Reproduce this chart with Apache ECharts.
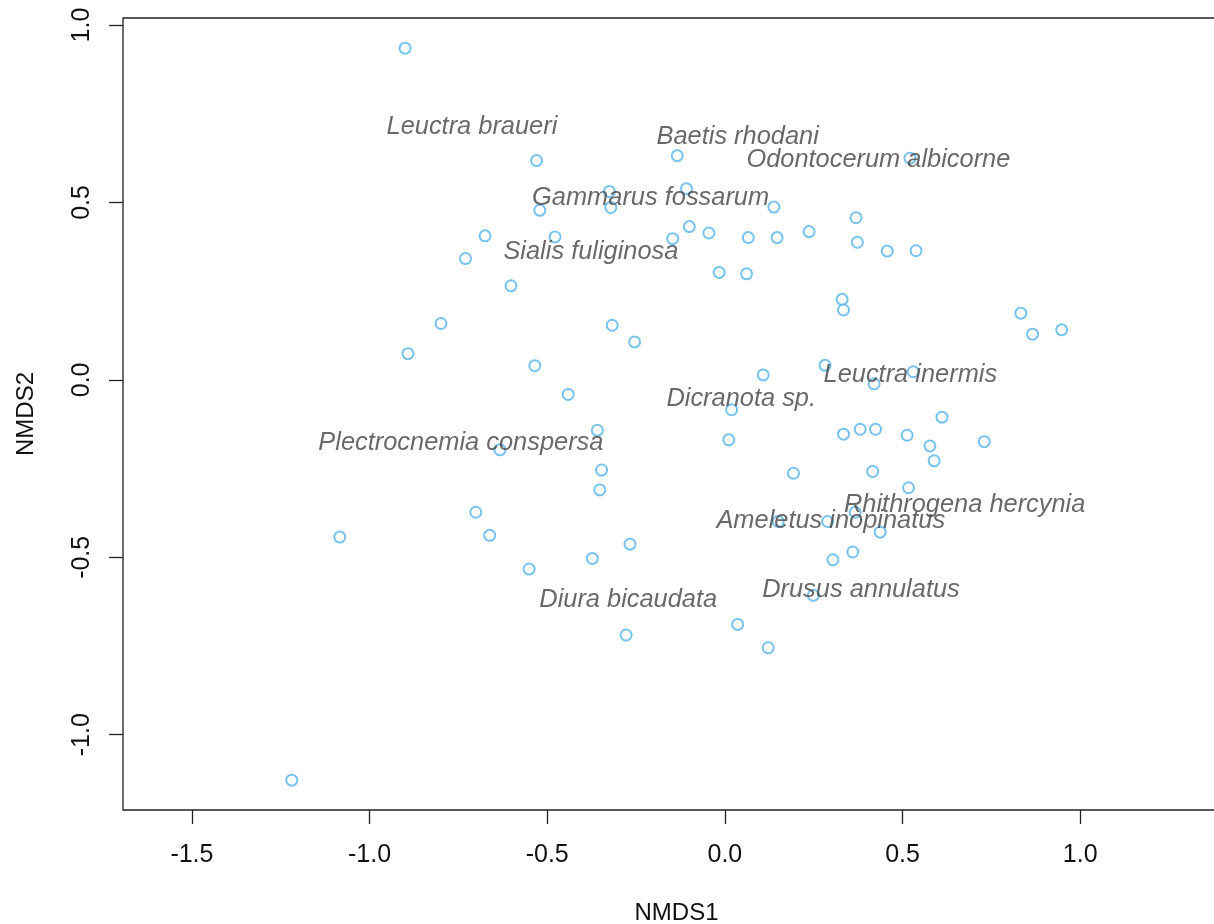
<!DOCTYPE html>
<html>
<head>
<meta charset="utf-8">
<script src="https://cdn.jsdelivr.net/npm/echarts@6/dist/echarts.min.js"></script>
<style>
html,body{margin:0;padding:0;background:#fff;}
#chart{width:1214px;height:924px;}
</style>
</head>
<body>
<div id="chart"></div>
<script>
// Site scores (NMDS1, NMDS2)
const siteX = [-0.900,-0.530,-0.134,0.521,-0.325,-0.108,-0.521,-0.321,0.138,0.369,
  -0.675,-0.478,-0.100,-0.045,-0.147,0.066,0.147,0.237,0.373,0.457,
  0.538,-0.730,-0.602,-0.016,0.061,0.330,0.334,0.833,0.866,0.948,
  -0.799,-0.317,-0.254,-0.892,-0.535,0.282,0.108,0.530,0.420,-0.441,
  0.019,0.611,-0.359,0.011,0.334,0.381,0.424,0.513,0.577,0.730,
  0.589,-0.633,-0.347,-0.352,0.193,0.416,0.517,-0.701,-0.662,-1.084,
  -0.267,-0.373,-0.551,0.437,0.360,0.304,0.249,0.150,0.289,0.367,
  -0.278,0.036,0.122,-1.219];
const siteY = [0.935,0.618,0.632,0.625,0.531,0.539,0.478,0.486,0.487,0.457,
  0.406,0.403,0.432,0.414,0.398,0.401,0.401,0.418,0.388,0.363,
  0.364,0.342,0.265,0.303,0.299,0.227,0.197,0.188,0.129,0.141,
  0.159,0.154,0.107,0.074,0.040,0.041,0.014,0.023,-0.011,-0.041,
  -0.084,-0.105,-0.142,-0.169,-0.153,-0.139,-0.139,-0.156,-0.186,-0.174,
  -0.228,-0.197,-0.254,-0.310,-0.263,-0.258,-0.304,-0.373,-0.438,-0.443,
  -0.463,-0.503,-0.533,-0.429,-0.485,-0.507,-0.607,-0.399,-0.399,-0.373,
  -0.719,-0.689,-0.755,-1.128];

// Species labels
const speciesNames = ["Leuctra braueri","Baetis rhodani","Odontocerum albicorne","Gammarus fossarum",
  "Sialis fuliginosa","Leuctra inermis","Dicranota sp.","Plectrocnemia conspersa",
  "Rhithrogena hercynia","Ameletus inopinatus","Drusus annulatus","Diura bicaudata"];
const speciesX = [-0.712,0.036,0.432,-0.209,-0.377,0.522,0.046,-0.743,0.675,0.298,0.383,-0.272];
const speciesY = [0.719,0.690,0.625,0.518,0.366,0.021,-0.049,-0.171,-0.346,-0.393,-0.586,-0.614];

// Tick values
const xTicks = [-1.5,-1.0,-0.5,0.0,0.5,1.0];
const yTicks = [-1.0,-0.5,0.0,0.5,1.0];

const FONT = "'Liberation Sans', Arial, sans-serif";
const AX = '#222';

const chart = echarts.init(document.getElementById('chart'), null, {renderer:'canvas'});
const option = {
  animation: false,
  backgroundColor: '#fff',
  grid: {
    left: 123, top: 18, width: 1107, height: 792,
    containLabel: false, outerBoundsMode: 'none',
    show: true, borderColor: AX, borderWidth: 1.3, backgroundColor: 'transparent'
  },
  xAxis: {
    type: 'value', min: -1.694, max: 1.4217,
    splitLine: {show:false},
    axisLine: {show:false, onZero:false},
    axisTick: {show:true, customValues: xTicks, length: 14, inside:false, lineStyle:{color:AX, width:1.3}},
    axisLabel: {show:true, customValues: xTicks, margin: 33, fontSize: 25, fontFamily: FONT, color:'#111',
      formatter: v => Number(v).toFixed(1)},
    name: 'NMDS1', nameLocation: 'middle', nameGap: 91,
    nameTextStyle: {fontSize: 24, fontFamily: FONT, color:'#111'}
  },
  yAxis: {
    type: 'value', min: -1.2121, max: 1.0199,
    splitLine: {show:false},
    axisLine: {show:false, onZero:false},
    axisTick: {show:true, customValues: yTicks, length: 14, inside:false, lineStyle:{color:AX, width:1.3}},
    axisLabel: {show:true, customValues: yTicks, margin: 28, rotate: 90, fontSize: 25, fontFamily: FONT, color:'#111',
      formatter: v => Number(v).toFixed(1)},
    name: 'NMDS2', nameLocation: 'middle', nameGap: 85, nameRotate: 90,
    nameTextStyle: {fontSize: 24, fontFamily: FONT, color:'#111'}
  },
  series: [
    {
      type: 'scatter',
      data: siteX.map((x,i) => [x, siteY[i]]),
      symbol: 'emptyCircle',
      symbolSize: 11,
      itemStyle: {color: '#56B4E9', borderColor: '#56B4E9', borderWidth: 1.4},
      z: 2,
      clip: false
    },
    {
      type: 'scatter',
      data: speciesNames.map((n,i) => ({name:n, value:[speciesX[i], speciesY[i]]})),
      symbolSize: 0,
      z: 5,
      clip: false,
      label: {
        show: true, position: 'inside', formatter: '{b}', offset: [0, 2],
        fontSize: 25.4, fontStyle: 'italic', fontFamily: FONT, color: '#444'
      }
    }
  ]
};
chart.setOption(option);
</script>
</body>
</html>
